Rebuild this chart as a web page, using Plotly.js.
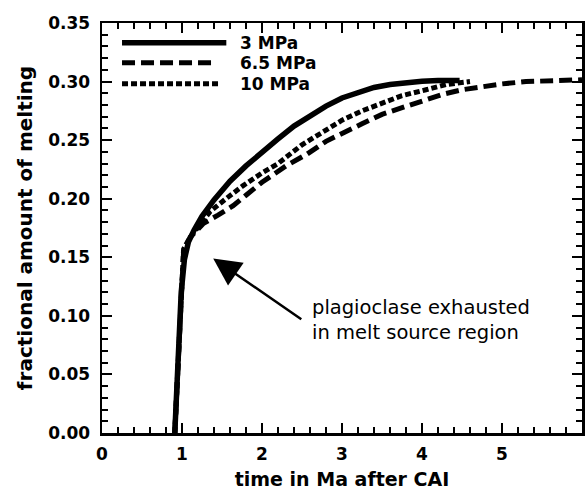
<!DOCTYPE html>
<html><head><meta charset="utf-8">
<script src="https://cdn.plot.ly/plotly-3.0.1.min.js"></script>
<style>html,body{margin:0;padding:0;background:#fff}#c{width:587px;height:490px}</style>
</head><body><div id="c"></div>
<script>
const seriesNames = ["3 MPa", "6.5 MPa", "10 MPa"];
const x3 = [0.91, 0.95, 0.99, 1.03, 1.08, 1.15, 1.25, 1.4, 1.6, 1.8, 2.0, 2.2, 2.4, 2.6, 2.8, 3.0, 3.2, 3.4, 3.6, 3.8, 4.0, 4.2, 4.47];
const y3 = [0, 0.062, 0.12, 0.148, 0.163, 0.173, 0.185, 0.199, 0.215, 0.228, 0.240, 0.251, 0.262, 0.271, 0.279, 0.286, 0.291, 0.295, 0.2975, 0.2993, 0.3003, 0.301, 0.301];
const x65 = [0.91, 0.95, 0.99, 1.02, 1.1, 1.27, 1.45, 1.64, 1.8, 2.0, 2.3, 2.56, 2.8, 3.0, 3.25, 3.5, 3.75, 4.0, 4.25, 4.5, 4.75, 5.0, 5.3, 5.6, 6.0];
const y65 = [0, 0.062, 0.12, 0.155, 0.167, 0.179, 0.186, 0.194, 0.203, 0.214, 0.228, 0.238, 0.249, 0.256, 0.264, 0.272, 0.278, 0.284, 0.289, 0.293, 0.296, 0.298, 0.300, 0.301, 0.3015];
const x10 = [0.91, 0.95, 0.99, 1.02, 1.1, 1.2, 1.35, 1.55, 1.76, 2.0, 2.2, 2.5, 2.75, 3.0, 3.25, 3.5, 3.75, 4.05, 4.3, 4.6];
const y10 = [0, 0.062, 0.12, 0.157, 0.167, 0.176, 0.189, 0.200, 0.211, 0.222, 0.230, 0.246, 0.257, 0.267, 0.275, 0.282, 0.288, 0.293, 0.2975, 0.300];
const xTitle = "time in Ma after CAI";
const yTitle = "fractional amount of melting";
const noteText = "plagioclase exhausted<br>in melt source region";
const arrowTip = [1.39, 0.149];
const arrowTail = [2.51, 0.0963];
const notePos = [2.6, 0.0963];
const xRange = [0, 6];
const yRange = [0, 0.35];

const lineStyles = [
  {color: "#000", width: 5.5, dash: "solid"},
  {color: "#000", width: 5, dash: "13px,6px"},
  {color: "#000", width: 5, dash: "6px,3px"}
];
const xs = [x3, x65, x10], ys = [y3, y65, y10];
const traces = xs.map((x, i) => ({x: x, y: ys[i], name: seriesNames[i], mode: "lines", line: lineStyles[i], showlegend: false}));

const tickFont = {family: "DejaVu Sans", size: 17, color: "#000", weight: 700};
const titleFont = {family: "DejaVu Sans", size: 19, weight: 700, color: "#000"};
const axisCommon = {
  showline: true, mirror: "allticks", linecolor: "#000", linewidth: 2.5,
  ticks: "inside", ticklen: 10, tickwidth: 2, tickcolor: "#000",
  showgrid: false, zeroline: false, tickfont: tickFont
};
const xMinor = {ticks: "inside", dtick: 0.2, ticklen: 6, tickwidth: 2, tickcolor: "#000", showgrid: false};
const yMinor = {ticks: "inside", dtick: 0.01, ticklen: 6, tickwidth: 2, tickcolor: "#000", showgrid: false};

// legend drawn in the plot corner
const legY = [0.952, 0.903, 0.852];
const legX0 = 0.0417, legTextX = 0.283;
const legX1 = [0.259, 0.232, 0.242];
const shapes = seriesNames.map((n, i) => ({type: "line", xref: "paper", yref: "paper",
  x0: legX0, x1: legX1[i], y0: legY[i], y1: legY[i], line: lineStyles[i]}));
const annotations = seriesNames.map((n, i) => ({xref: "paper", yref: "paper", x: legTextX, y: legY[i],
  text: n, showarrow: false, xanchor: "left", yanchor: "middle",
  font: {family: "DejaVu Sans", size: 17, weight: 700, color: "#000"}}));
annotations.push({x: arrowTip[0], y: arrowTip[1], ax: arrowTail[0], ay: arrowTail[1], axref: "x", ayref: "y",
  xref: "x", yref: "y", text: "", showarrow: true, arrowhead: 2, arrowsize: 2.2, arrowwidth: 2.5, arrowcolor: "#000", standoff: 0});
annotations.push({x: notePos[0], y: notePos[1], xref: "x", yref: "y", text: noteText, showarrow: false,
  xanchor: "left", yanchor: "middle", align: "left", font: {family: "DejaVu Sans", size: 19.5, color: "#000"}});

const layout = {
  width: 587, height: 490,
  margin: {l: 102, r: 5, t: 23, b: 57},
  paper_bgcolor: "#fff", plot_bgcolor: "#fff",
  showlegend: false,
  xaxis: Object.assign({}, axisCommon, {
    range: xRange, dtick: 1, tick0: 0, ticklabelstandoff: 4, minor: xMinor,
    title: {text: xTitle, font: titleFont, standoff: 14}
  }),
  yaxis: Object.assign({}, axisCommon, {
    range: yRange, dtick: 0.05, tick0: 0, tickformat: ".2f", ticklabelstandoff: 6, minor: yMinor,
    title: {text: yTitle, font: Object.assign({}, titleFont, {size: 20}), standoff: 10}
  }),
  shapes: shapes,
  annotations: annotations
};
Plotly.newPlot("c", traces, layout, {displayModeBar: false, staticPlot: true});
</script>
</body></html>
